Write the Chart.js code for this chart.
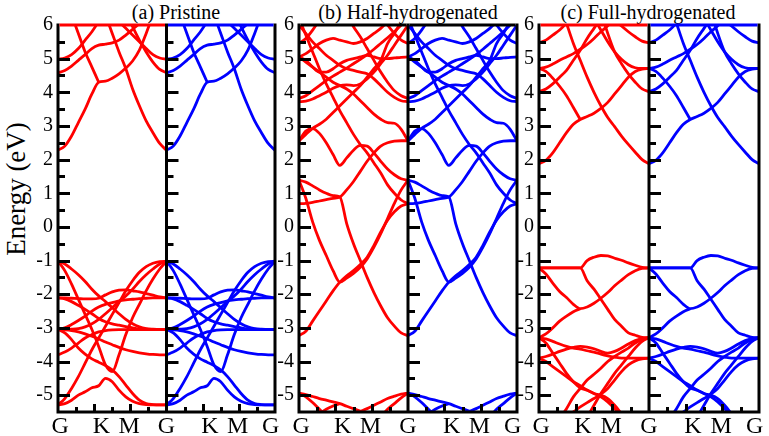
<!DOCTYPE html>
<html><head><meta charset="utf-8">
<script src="https://cdn.jsdelivr.net/npm/chart.js@4.4.1/dist/chart.umd.min.js"></script>
<style>
html,body{margin:0;padding:0;background:#fff;width:769px;height:436px;overflow:hidden;position:relative;}
canvas{position:absolute;top:0;}
.ptitle{position:absolute;top:0;font-family:"Liberation Serif",serif;font-size:20px;line-height:24px;white-space:nowrap;transform:translateX(-50%);color:#000;}
#ylab{position:absolute;left:16px;top:189px;font-family:"Liberation Serif",serif;font-size:27px;line-height:30px;white-space:nowrap;color:#000;transform:translate(-50%,-50%) rotate(-90deg);}
</style></head>
<body>
<div class="ptitle" style="left:176px">(a) Pristine</div>
<div class="ptitle" style="left:408px">(b) Half-hydrogenated</div>
<div class="ptitle" style="left:648px">(c) Full-hydrogenated</div>
<div id="ylab">Energy (eV)</div>
<canvas id="ca" width="285" height="436" style="left:0px"></canvas>
<canvas id="cb" width="268" height="436" style="left:259px"></canvas>
<canvas id="cc" width="270" height="436" style="left:499px"></canvas>
<script>
const n = null;
// k-path sampling (fraction of G-K-M-G path), shared by every band
const kGrid = [0,0.0625,0.125,0.1875,0.25,0.3125,0.375,0.4375,0.5,0.5625,0.625,0.6875,0.75,0.8125,0.875,0.9375,1];
const xTickPos = [0.02,0.4,0.655,1,1.4,1.655,1.96];
const xTickLabels = ['G','K','M','G','K','M','G'];
const yTickValues = [-5,-4,-3,-2,-1,0,1,2,3,4,5,6];
const yMin = -5.5, yMax = 6;

// (a) Pristine — band energies (eV) on kGrid
const A_C1 = [2.28,2.4,2.7,3.1,3.5,3.95,4.3,4.33,4.42,4.55,4.72,4.93,5.25,5.75,6.3,n,n];
const A_C2 = [n,n,n,n,n,n,n,6.3,5.75,5.2,4.7,4.1,3.6,3.15,2.8,2.48,2.28];
const A_C3 = [4.58,4.65,4.78,4.95,5.12,5.3,5.4,5.43,5.47,5.55,5.7,5.87,6.05,6.3,n,n,n];
const A_C4 = [4.98,5.02,5.12,5.3,5.55,5.8,6.1,n,n,n,n,n,n,n,n,n,n];
const A_C5 = [n,n,n,n,n,n,n,n,n,n,6.4,5.95,5.55,5.2,4.9,4.68,4.58];
const A_C6 = [n,n,n,n,n,n,n,n,n,6.1,5.9,5.7,5.5,5.3,5.12,5.02,4.98];
const A_C7 = [n,n,6.3,5.75,5.2,4.75,4.3,n,n,n,n,n,n,n,n,n,n];
const A_V1 = [-1.02,-1.1,-1.25,-1.42,-1.62,-1.85,-2.05,-2.22,-2.4,-2.58,-2.75,-2.88,-2.97,-3.02,-3.04,-3.05,-3.05];
const A_V2 = [-3.05,-3.05,-3.04,-3.02,-2.97,-2.88,-2.75,-2.58,-2.4,-2.22,-2.05,-1.85,-1.62,-1.42,-1.25,-1.1,-1.02];
const A_V3 = [-1.02,-1.3,-1.7,-2.15,-2.6,-3.05,-3.55,-4.1,-4.3,-3.8,-3.2,-2.7,-2.3,-1.9,-1.55,-1.25,-1.02];
const A_V4 = [-5.29,-5.1,-4.8,-4.45,-4.05,-3.65,-3.3,-2.95,-2.6,-2.25,-1.9,-1.6,-1.35,-1.18,-1.08,-1.03,-1.02];
const A_V5 = [-2.11,-2.11,-2.12,-2.13,-2.14,-2.14,-2.12,-2.02,-1.93,-1.88,-1.87,-1.9,-1.93,-1.98,-2.03,-2.08,-2.11];
const A_V6 = [-2.11,-2.14,-2.22,-2.33,-2.45,-2.58,-2.72,-2.82,-2.88,-2.92,-2.96,-3.0,-3.03,-3.04,-3.05,-3.05,-3.05];
const A_V7 = [-3.05,-3.0,-2.9,-2.78,-2.65,-2.5,-2.38,-2.3,-2.25,-2.2,-2.17,-2.15,-2.13,-2.12,-2.11,-2.11,-2.11];
const A_V8 = [-3.05,-3.15,-3.35,-3.6,-3.78,-3.92,-4.02,-4.12,-4.25,-4.45,-4.7,-4.95,-5.15,-5.25,-5.28,-5.29,-5.29];
const A_V9 = [-3.8,-3.72,-3.6,-3.45,-3.3,-3.2,-3.12,-3.08,-3.06,-3.05,-3.05,-3.05,-3.05,-3.05,-3.05,-3.05,-3.05];
const A_V10 = [-3.05,-3.06,-3.08,-3.12,-3.18,-3.25,-3.33,-3.42,-3.5,-3.58,-3.65,-3.7,-3.74,-3.77,-3.79,-3.8,-3.8];
const A_V11 = [-5.29,-5.25,-5.15,-5.0,-4.9,-4.78,-4.72,-4.5,-4.6,-4.85,-5.05,-5.18,-5.25,-5.28,-5.29,-5.29,-5.29];

// (b) Half-hydrogenated
const B_1 = [0.69,0.7,0.73,0.77,0.81,0.85,0.89,1.1,1.35,1.65,1.95,2.2,2.4,2.5,2.55,2.56,2.56];
const B_2 = [1.39,1.33,1.22,1.1,1.0,0.93,0.89,0.1,-0.5,-1.0,-1.5,-1.95,-2.35,-2.7,-2.95,-3.15,-3.23];
const B_3 = [1.39,0.85,0.15,-0.4,-0.85,-1.3,-1.64,-1.52,-1.38,-1.2,-0.95,-0.6,-0.2,0.25,0.7,1.1,1.39];
const B_4 = [-3.23,-3.1,-2.8,-2.5,-2.2,-1.9,-1.64,-1.45,-1.3,-1.12,-0.9,-0.55,-0.15,0.2,0.45,0.62,0.69];
const B_5 = [2.55,2.85,2.92,2.78,2.5,2.15,1.83,2.05,2.28,2.42,2.4,2.2,1.95,1.72,1.55,1.43,1.39];
const B_6 = [5.05,4.9,4.75,4.6,4.45,4.3,4.2,4.1,3.95,3.75,3.55,3.35,3.2,3.1,3.08,2.9,2.55];
const B_7 = [2.55,2.75,2.93,3.05,3.2,3.4,3.6,3.8,4.0,4.2,4.45,4.7,4.95,5.45,5.75,6.1,n];
const B_8 = [6.2,5.7,5.2,4.7,4.25,3.85,3.45,3.1,2.75,2.45,2.2,1.9,1.6,1.25,1.0,0.8,0.69];
const B_9 = [3.82,3.9,4.05,4.2,4.35,4.48,4.6,4.72,4.85,4.98,5.12,5.28,5.45,5.62,5.8,6.0,6.2];
const B_10 = [3.72,3.74,3.8,3.9,4.0,4.12,4.2,4.22,4.2,4.25,4.4,4.6,4.85,5.1,5.4,5.7,6.0];
const B_11 = [n,n,n,n,n,n,n,6.3,5.95,5.65,5.3,4.95,4.6,4.3,4.05,3.9,3.82];
const B_12 = [6.0,5.75,5.5,5.3,5.1,4.95,4.8,4.7,4.65,4.6,4.55,4.4,4.2,4.0,3.85,3.75,3.72];
const B_13 = [5.05,4.95,4.75,4.6,4.6,4.7,4.85,4.95,5.0,5.05,5.1,5.05,5.0,5.0,5.02,5.04,5.05];
const B_14 = [5.05,5.15,5.3,5.45,5.55,5.6,5.55,5.5,5.45,5.5,5.6,5.75,5.9,6.1,n,n,n];
const B_15 = [5.45,5.6,5.85,6.15,n,n,n,n,n,n,n,n,n,n,n,n,n];
const B_16 = [n,n,n,n,n,n,n,n,n,n,n,n,6.3,6.0,5.75,5.55,5.45];
const B_D1 = [-4.94,-4.98,-5.04,-5.1,-5.15,-5.2,-5.25,-5.33,-5.4,-5.48,-5.56,n,n,n,n,n,n];
const B_D2 = [-4.94,-5.05,-5.22,-5.42,-5.62,n,n,n,n,n,n,n,n,n,n,n,n];
const B_D3 = [n,n,n,n,n,n,n,n,n,-5.48,-5.4,-5.3,-5.2,-5.1,-5.03,-4.97,-4.94];
const B_D4 = [n,n,n,n,n,n,n,n,n,n,n,n,-5.65,-5.42,-5.25,-5.08,-4.94];
const B_D5 = [n,n,n,-5.55,-5.42,-5.32,-5.25,n,n,n,n,n,n,n,n,n,n];

// (c) Full-hydrogenated
const C_C1 = [1.88,1.98,2.2,2.5,2.8,3.05,3.19,3.28,3.38,3.52,3.7,3.95,4.2,4.45,4.62,4.69,4.71];
const C_C2 = [n,n,n,n,6.05,5.45,4.95,4.45,4.0,3.6,3.25,2.98,2.7,2.45,2.22,2.0,1.88];
const C_C3 = [4.71,4.62,4.42,4.18,3.9,3.55,3.19,n,n,n,n,n,n,n,n,n,n];
const C_C4 = [4.02,4.1,4.25,4.45,4.65,4.95,5.25,5.6,5.9,6.2,n,n,n,n,n,n,n];
const C_C5 = [4.71,4.75,4.84,4.95,5.05,5.15,5.28,5.42,5.6,5.8,5.98,6.2,n,n,n,n,n];
const C_C6 = [5.47,5.55,5.7,5.85,6.05,n,n,n,n,n,n,n,n,n,n,n,n];
const C_C7 = [n,n,n,n,n,n,n,n,n,n,n,6.15,5.97,5.8,5.65,5.52,5.47];
const C_C8 = [n,n,n,n,n,n,n,n,n,6.4,5.75,5.2,4.85,4.55,4.3,4.1,4.02];
const C_C9 = [n,n,n,n,n,n,n,n,6.2,5.85,5.5,5.2,4.98,4.82,4.73,4.71,4.71];
const C_V1 = [-1.22,-1.22,-1.22,-1.22,-1.22,-1.22,-1.22,-1.0,-0.9,-0.85,-0.86,-0.93,-0.99,-1.07,-1.14,-1.2,-1.22];
const C_V2 = [-1.22,-1.22,-1.22,-1.22,-1.22,-1.22,-1.22,-1.6,-1.85,-2.15,-2.45,-2.75,-2.95,-3.15,-3.22,-3.28,-3.29];
const C_V3 = [-1.22,-1.4,-1.67,-1.92,-2.1,-2.3,-2.43,-2.38,-2.27,-2.12,-1.95,-1.75,-1.58,-1.42,-1.3,-1.23,-1.22];
const C_V4 = [-3.29,-3.18,-3.0,-2.8,-2.65,-2.52,-2.43,n,n,n,n,n,n,n,n,n,n];
const C_V5 = [-3.29,-3.33,-3.4,-3.48,-3.55,-3.6,-3.63,-3.68,-3.72,-3.78,-3.83,-3.87,-3.9,-3.9,-3.9,-3.9,-3.9];
const C_V6 = [-3.9,-3.85,-3.78,-3.7,-3.63,-3.58,-3.55,-3.57,-3.62,-3.7,-3.75,-3.7,-3.6,-3.48,-3.38,-3.31,-3.29];
const C_V7 = [-3.29,-3.45,-3.75,-4.05,-4.35,-4.6,-4.78,-4.85,-4.95,-5.05,-5.2,-5.4,-5.6,n,n,n,n];
const C_V8 = [n,n,n,-5.7,-5.4,-5.05,-4.8,-4.55,-4.38,-4.2,-4.0,-3.85,-3.72,-3.6,-3.45,-3.35,-3.29];
const C_V9 = [n,n,n,n,n,n,n,-5.65,-5.3,-4.95,-4.65,-4.35,-4.1,-3.85,-3.6,-3.4,-3.29];
const C_V10 = [n,n,n,n,-5.65,-5.5,-5.35,-5.22,-5.1,-4.97,-4.8,-4.55,-4.3,-4.1,-3.98,-3.92,-3.9];
const C_V11 = [-3.9,-4.0,-4.15,-4.3,-4.45,-4.6,-4.72,-4.85,-4.95,-5.0,-5.1,-5.3,-5.55,n,n,n,n];

const bandsA = [A_C1,A_C2,A_C3,A_C4,A_C5,A_C6,A_C7,A_V1,A_V2,A_V3,A_V4,A_V5,A_V6,A_V7,A_V8,A_V9,A_V10,A_V11];
const bandsB = [B_1,B_2,B_3,B_4,B_5,B_6,B_7,B_8,B_9,B_10,B_11,B_12,B_13,B_14,B_15,B_16,B_D1,B_D2,B_D3,B_D4,B_D5];
const bandsC = [C_C1,C_C2,C_C3,C_C4,C_C5,C_C6,C_C7,C_C8,C_C9,C_V1,C_V2,C_V3,C_V4,C_V5,C_V6,C_V7,C_V8,C_V9,C_V10,C_V11];

const SERIF = "'Liberation Serif', serif";

const framePlugin = {
  id: 'frame',
  afterDatasetsDraw(chart, args, opts) {
    const {ctx, chartArea, scales} = chart;
    const {left, right, top, bottom} = chartArea;
    const x = scales.x, y = scales.y;
    const mid = x.getPixelForValue(1);
    ctx.save();
    ctx.lineCap = 'butt';
    ctx.strokeStyle = '#000';
    ctx.lineWidth = 3;
    ctx.beginPath();
    for (let v = -5; v < yMax; v += 0.5) {
      const py = Math.round(y.getPixelForValue(v)) + 0.5;
      const len = Number.isInteger(v) ? 12 : 7;
      ctx.moveTo(left, py); ctx.lineTo(left + len, py);
      ctx.moveTo(mid, py); ctx.lineTo(mid + len, py);
    }
    for (let h = 0; h < 2; h++) {
      for (let i = 1; i < 6; i++) {
        const px = Math.round(x.getPixelForValue(h + i / 6)) + 0.5;
        const len = (i % 2 === 0) ? 8 : 5;
        ctx.moveTo(px, bottom); ctx.lineTo(px, bottom - len);
      }
    }
    ctx.stroke();
    ctx.beginPath();
    ctx.moveTo(left, top - 1.5); ctx.lineTo(left, bottom + 1.5);
    ctx.moveTo(right, top - 1.5); ctx.lineTo(right, bottom + 1.5);
    ctx.moveTo(mid, top - 1.5); ctx.lineTo(mid, bottom + 1.5);
    ctx.moveTo(left, bottom); ctx.lineTo(right, bottom);
    ctx.stroke();
    ctx.beginPath(); ctx.strokeStyle = opts.topLeft; ctx.moveTo(left + 1.5, top); ctx.lineTo(mid - 1.5, top); ctx.stroke();
    ctx.beginPath(); ctx.strokeStyle = opts.topRight; ctx.moveTo(mid + 1.5, top); ctx.lineTo(right - 1.5, top); ctx.stroke();
    ctx.restore();
  }
};

function toPoints(arr, offset) {
  const out = [];
  arr.forEach((e, i) => { if (e !== null) out.push({x: kGrid[i] + offset, y: e}); });
  return out;
}

function makeChart(id, bands, yWidth, topLeft, topRight) {
  const datasets = [];
  bands.forEach(b => datasets.push({data: toPoints(b, 0), borderColor: '#ff0000'}));
  bands.forEach(b => datasets.push({data: toPoints(b, 1), borderColor: '#0000ff'}));
  datasets.forEach(d => { d.borderWidth = 2.8; d.pointRadius = 0; d.fill = false; d.cubicInterpolationMode = 'monotone'; });
  return new Chart(document.getElementById(id), {
    type: 'line',
    data: {datasets},
    options: {
      responsive: false, animation: false, devicePixelRatio: 1,
      layout: {padding: {top: 25, right: 10, bottom: 0, left: 0}},
      plugins: {legend: {display: false}, tooltip: {enabled: false}, title: {display: false},
        frame: {topLeft, topRight}},
      scales: {
        x: {type: 'linear', min: 0, max: 2,
          grid: {display: false, drawTicks: false}, border: {display: false},
          afterBuildTicks: s => { s.ticks = xTickPos.map(v => ({value: v})); },
          afterFit: s => { s.height = 24; },
          ticks: {autoSkip: false, maxRotation: 0, padding: 0, color: '#000',
            font: {size: 24, family: SERIF}, callback: (v, i) => xTickLabels[i]}},
        y: {type: 'linear', min: yMin, max: yMax,
          grid: {display: false, drawTicks: false}, border: {display: false},
          afterBuildTicks: s => { s.ticks = yTickValues.map(v => ({value: v})); },
          afterFit: s => { s.width = yWidth; },
          ticks: {padding: 5, color: '#000', font: {size: 20, family: SERIF}, callback: v => String(v)}}
      }
    },
    plugins: [framePlugin]
  });
}

function drawAll() {
  Chart.defaults.font.family = SERIF;
  Chart.defaults.color = '#000';
  makeChart('ca', bandsA, 58, '#ff0000', '#0000ff');
  makeChart('cb', bandsB, 40, '#000000', '#000000');
  makeChart('cc', bandsC, 40, '#ff0000', '#0000ff');
}

Promise.all([
  document.fonts.load("20px 'Liberation Serif'"),
  document.fonts.load("24px 'Liberation Serif'")
]).then(drawAll, drawAll);
</script>
</body></html>
